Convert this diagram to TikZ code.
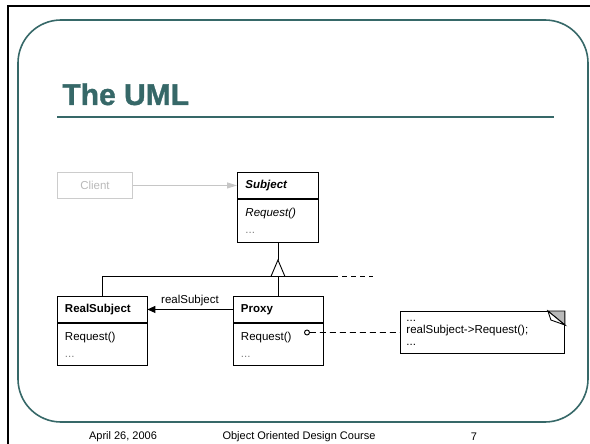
\documentclass[tikz,border=0pt]{standalone}
\usepackage{fontspec}
\setmainfont{Liberation Sans}
\newfontfamily\titlefont[FakeBold=1.2]{Liberation Sans Bold}
\usepackage{xcolor}
\usetikzlibrary{arrows.meta}
\definecolor{slideteal}{RGB}{54,104,104}

\begin{document}
\begin{tikzpicture}[x=1pt,y=-1pt,line width=0.9pt,
  classname/.style={draw,anchor=north west,minimum width=90pt,minimum height=26pt,
    text width=74pt,inner xsep=8pt,inner ysep=0pt,align=left,
    font=\fontsize{11.5}{17}\selectfont\bfseries},
  classbody/.style={draw,anchor=north west,minimum width=90pt,minimum height=42pt,
    text width=74pt,inner xsep=8pt,inner ysep=0pt,align=left,
    font=\fontsize{11.5}{17}\selectfont},
  footer/.style={font=\fontsize{11}{12}\selectfont}]
\useasboundingbox (0,0) rectangle (590,444);

% slide frame
\draw[line width=2.2pt] (8,444) |- (590,6);
\draw[slideteal,line width=1.6pt,rounded corners=43pt] (18,20) rectangle (588,422);
\node[anchor=base west,inner sep=0pt,text=slideteal,
      font=\fontsize{30}{31}\selectfont\titlefont] (title) at (62,105) {The UML};
\draw[slideteal,line width=2.2pt] (57,117) -- (554,117);

% classes
\node[draw=gray!40,text=gray!55,anchor=north west,minimum width=75pt,minimum height=26pt,
      inner sep=0pt,font=\fontsize{11.5}{17}\selectfont] (client) at (57,172) {Client};
\node[classname,minimum width=81pt,text width=65pt,
      font=\fontsize{11.5}{17}\selectfont\bfseries\itshape] (subjname) at (237,172) {Subject};
\node[classbody,minimum width=81pt,text width=65pt,minimum height=43pt]
      (subjbody) at (subjname.south west) {\textit{Request()}\\\textcolor{gray}{...}};
\node[classname] (realname) at (56.5,296) {RealSubject};
\node[classbody] (realbody) at (realname.south west) {Request()\\\textcolor{gray}{...}};
\node[classname] (proxyname) at (232.5,296) {Proxy};
\node[classbody] (proxybody) at (proxyname.south west) {Request()\\\textcolor{gray}{...}};

\node[draw,anchor=north west,minimum width=164pt,minimum height=42pt,text width=152pt,
      inner xsep=6pt,inner ysep=0pt,align=left,font=\fontsize{11.5}{12}\selectfont]
      (note) at (400,311) {...\\realSubject->Request();\\...};
\filldraw[fill=gray!55] ([xshift=-17pt]note.north east) -- (note.north east)
      -- ([yshift=-14pt]note.north east) -- cycle;
\filldraw[fill=white] ([xshift=-17pt]note.north east) -- ([xshift=-14pt,yshift=-9pt]note.north east)
      -- ([yshift=-14pt]note.north east) -- cycle;

% connectors
\draw[gray!45,-{Triangle[length=10pt,width=6pt]}] (client) -- (subjname);

\coordinate (apex) at (subjbody.south |- 0,260);
\coordinate (hub) at (subjbody.south |- 0,276.5);
\coordinate (solidend) at (333,276.5);
\coordinate (dashend) at (373,276.5);
\draw (realname.north) |- (solidend);
\draw[dash pattern=on 5pt off 4pt] (solidend) -- (dashend);
\draw (proxyname.north) -- (hub);
\draw (subjbody) -- (apex);
\draw[fill=white] (apex) -- ++(7,16.5) -- ++(-14,0) -- cycle;

\draw[-{Triangle[length=8pt,width=7pt]}] (proxyname) --
      node[above,font=\fontsize{11.5}{13}\selectfont] {realSubject} (realname);

\node[circle,draw,inner sep=0pt,minimum size=5pt] (port) at (307,332.5) {};
\draw[dash pattern=on 6pt off 4pt] (port) -- (note);

% footer
\node[footer] (date) at (123,437) {April 26, 2006};
\node[footer] (course) at (299,437) {Object Oriented Design Course};
\node[footer] (page) at (474,437) {7};
\end{tikzpicture}
\end{document}
